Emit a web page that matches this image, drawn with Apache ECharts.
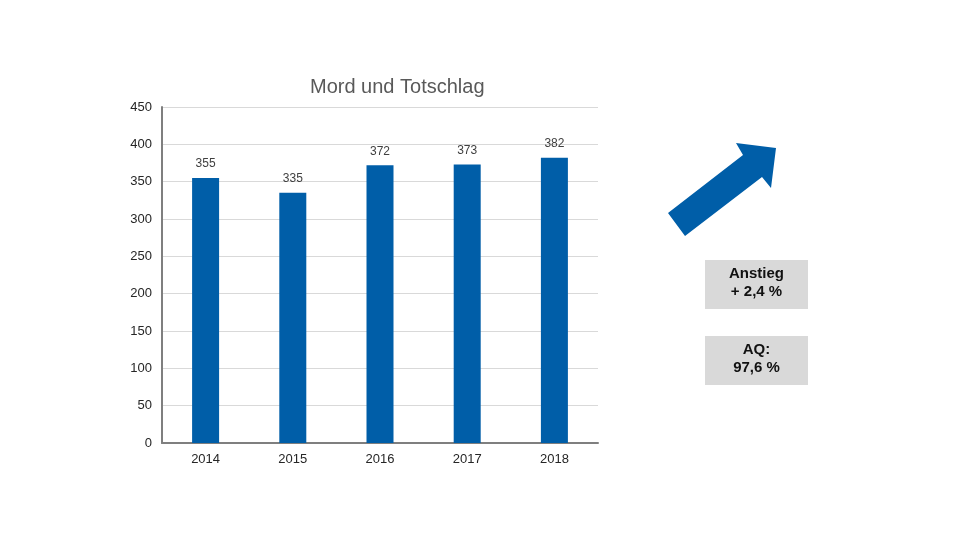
<!DOCTYPE html>
<html><head><meta charset="utf-8">
<script src="https://cdn.jsdelivr.net/npm/echarts@6/dist/echarts.min.js"></script>
<style>html,body{margin:0;padding:0;background:#fff}#c{width:960px;height:540px}</style>
</head><body><div id="c"></div>
<script>
var categories = ['2014','2015','2016','2017','2018'];
var values = [355, 335, 372, 373, 382];
var yTicks = [0,50,100,150,200,250,300,350,400,450];
var titleText = 'Mord und Totschlag';
var box1Text = 'Anstieg\n+ 2,4 %';
var box2Text = 'AQ:\n97,6 %';

var chart = echarts.init(document.getElementById('c'), null, {renderer:'canvas'});
chart.setOption({
  backgroundColor:'#fff',
  animation:false,
  title:{text:titleText,left:305,top:72,
    textStyle:{fontFamily:'Liberation Sans, Arial',fontSize:20,fontWeight:'normal',color:'#595959'}},
  grid:{left:162,top:107,width:436,height:336,containLabel:false},
  xAxis:{type:'category',data:categories,
    axisLine:{lineStyle:{color:'#7f7f7f',width:2}},
    axisTick:{show:false},
    axisLabel:{color:'#262626',fontFamily:'Liberation Sans, Arial',fontSize:13,margin:10}},
  yAxis:{type:'value',min:yTicks[0],max:yTicks[yTicks.length-1],interval:50,
    axisLine:{show:true,lineStyle:{color:'#7f7f7f',width:2}},
    axisTick:{show:false},
    splitLine:{lineStyle:{color:'#d9d9d9',width:1}},
    axisLabel:{color:'#262626',fontFamily:'Liberation Sans, Arial',fontSize:13,margin:10}},
  series:[{type:'bar',data:values,barWidth:27,
    itemStyle:{color:'#005ea8'},
    label:{show:true,position:'top',distance:8,color:'#404040',fontFamily:'Liberation Sans, Arial',fontSize:12}}],
  graphic:[
    {type:'polygon',shape:{points:[[668,213],[743,155],[736,143],[776,148],[771,188],[762,177],[685,236]]},
      style:{fill:'#005ea8'}},
    {type:'rect',shape:{x:705,y:260,width:103,height:49},style:{fill:'#d9d9d9'}},
    {type:'text',x:756.5,y:282.5,style:{text:box1Text,align:'center',verticalAlign:'middle',
      font:'bold 15px "Liberation Sans", Arial',fill:'#111',lineHeight:18}},
    {type:'rect',shape:{x:705,y:336,width:103,height:49},style:{fill:'#d9d9d9'}},
    {type:'text',x:756.5,y:358.5,style:{text:box2Text,align:'center',verticalAlign:'middle',
      font:'bold 15px "Liberation Sans", Arial',fill:'#111',lineHeight:18}}
  ]
});
</script></body></html>
